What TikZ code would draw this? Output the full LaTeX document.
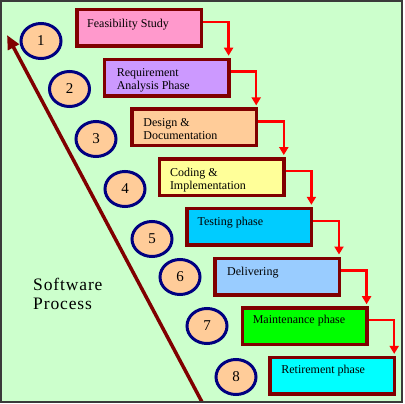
\documentclass[tikz,border=0pt]{standalone}
\usepackage{fontspec}
\setmainfont{Liberation Serif}
\usetikzlibrary{arrows.meta,shapes.geometric}
\definecolor{bgc}{HTML}{CCFFCC}
\definecolor{framec}{HTML}{3A3A3A}
\definecolor{maroonc}{HTML}{800000}
\definecolor{navyc}{HTML}{000080}
\definecolor{peachc}{HTML}{FFCC99}
\definecolor{pinkc}{HTML}{FF99CC}
\definecolor{violetc}{HTML}{CC99FF}
\definecolor{yellowc}{HTML}{FFFF99}
\definecolor{skyc}{HTML}{00CCFF}
\definecolor{lbluec}{HTML}{99CCFF}
\definecolor{greenc}{HTML}{00FF00}
\definecolor{cyanc}{HTML}{00FFFF}
\definecolor{redc}{HTML}{FF0000}
\begin{document}
\begin{tikzpicture}[x=1pt,y=-1pt,
  stagebox/.style={draw=maroonc, line width=3.5pt, minimum width=124.5pt, minimum height=36.5pt, inner sep=0pt},
  numcirc/.style={ellipse, draw=navyc, line width=3pt, fill=peachc, minimum width=40pt, minimum height=35pt, inner sep=0pt, font=\fontsize{15}{15}\selectfont},
  stagetxt/.style={anchor=base west, inner sep=0pt, align=left, font=\fontsize{12}{12.5}\selectfont},
  conn/.style={draw=redc, line width=2.5pt, -{Triangle[length=8pt,width=9pt]}},
  mainarrow/.style={draw=maroonc, line width=3.5pt, -{Triangle[length=14pt,width=12pt]}}
]
\useasboundingbox (0,0) rectangle (405,404);
\fill[bgc] (1,1) rectangle (402,402);

% main arrow
\coordinate (as) at (202,402);
\coordinate (ae) at (7,35);
\draw[mainarrow] (as) -- (ae);

% boxes
\node[stagebox, fill=pinkc]   (b1) at (139,28)    {};
\node[stagebox, fill=violetc] (b2) at (166.6,77.7) {};
\node[stagebox, fill=peachc]  (b3) at (194.2,127.4) {};
\node[stagebox, fill=yellowc] (b4) at (221.8,177.1) {};
\node[stagebox, fill=skyc]    (b5) at (249.4,226.8) {};
\node[stagebox, fill=lbluec]  (b6) at (277,276.5) {};
\node[stagebox, fill=greenc]  (b7) at (304.6,326.2) {};
\node[stagebox, fill=cyanc]   (b8) at (332.2,375.9) {};

% texts (base anchor = last line's baseline)
\node[stagetxt] (t1) at ([xshift=12pt,yshift=-20pt]b1.north west) {Feasibility Study};
\node[stagetxt] (t2) at ([xshift=14pt,yshift=-31.5pt]b2.north west) {Requirement\\Analysis Phase};
\node[stagetxt] (t3) at ([xshift=13pt,yshift=-32pt]b3.north west) {Design \&\\Documentation};
\node[stagetxt] (t4) at ([xshift=12pt,yshift=-32pt]b4.north west) {Coding \&\\Implementation};
\node[stagetxt] (t5) at ([xshift=12pt,yshift=-18.5pt]b5.north west) {Testing phase};
\node[stagetxt] (t6) at ([xshift=14pt,yshift=-19pt]b6.north west) {Delivering};
\node[stagetxt] (t7) at ([xshift=12pt,yshift=-17.5pt]b7.north west) {Maintenance phase};
\node[stagetxt] (t8) at ([xshift=13pt,yshift=-18pt]b8.north west) {Retirement phase};

% connectors
\draw[conn] ([yshift=6pt]b1.east) -| ([xshift=-2pt,yshift=2pt]b2.north east);
\draw[conn] ([yshift=6pt]b2.east) -| ([xshift=-2pt,yshift=2pt]b3.north east);
\draw[conn] ([yshift=6pt]b3.east) -| ([xshift=-2pt,yshift=2pt]b4.north east);
\draw[conn] ([yshift=6pt]b4.east) -| ([xshift=-2pt,yshift=2pt]b5.north east);
\draw[conn] ([yshift=6pt]b5.east) -| ([xshift=-2pt,yshift=2pt]b6.north east);
\draw[conn] ([yshift=6pt]b6.east) -| ([xshift=-2pt,yshift=2pt]b7.north east);
\draw[conn] ([yshift=6pt]b7.east) -| ([xshift=-2pt,yshift=2pt]b8.north east);

% numbered circles
\node[numcirc] (c1) at (41,41)   {1};
\node[numcirc] (c2) at (69.5,89) {2};
\node[numcirc] (c3) at (96,139)  {3};
\node[numcirc] (c4) at (125,189) {4};
\node[numcirc] (c5) at (152,239) {5};
\node[numcirc] (c6) at (180,277) {6};
\node[numcirc] (c7) at (207,326) {7};
\node[numcirc] (c8) at (236,377) {8};

% label
\node[anchor=base west, inner sep=0pt, align=left, font=\fontsize{17.5}{19}\selectfont\addfontfeature{LetterSpace=5}] (sp) at (33,309) {Software\\Process};

% frame
\draw[framec, line width=2pt] (1,1) rectangle (402,402);
\end{tikzpicture}
\end{document}
